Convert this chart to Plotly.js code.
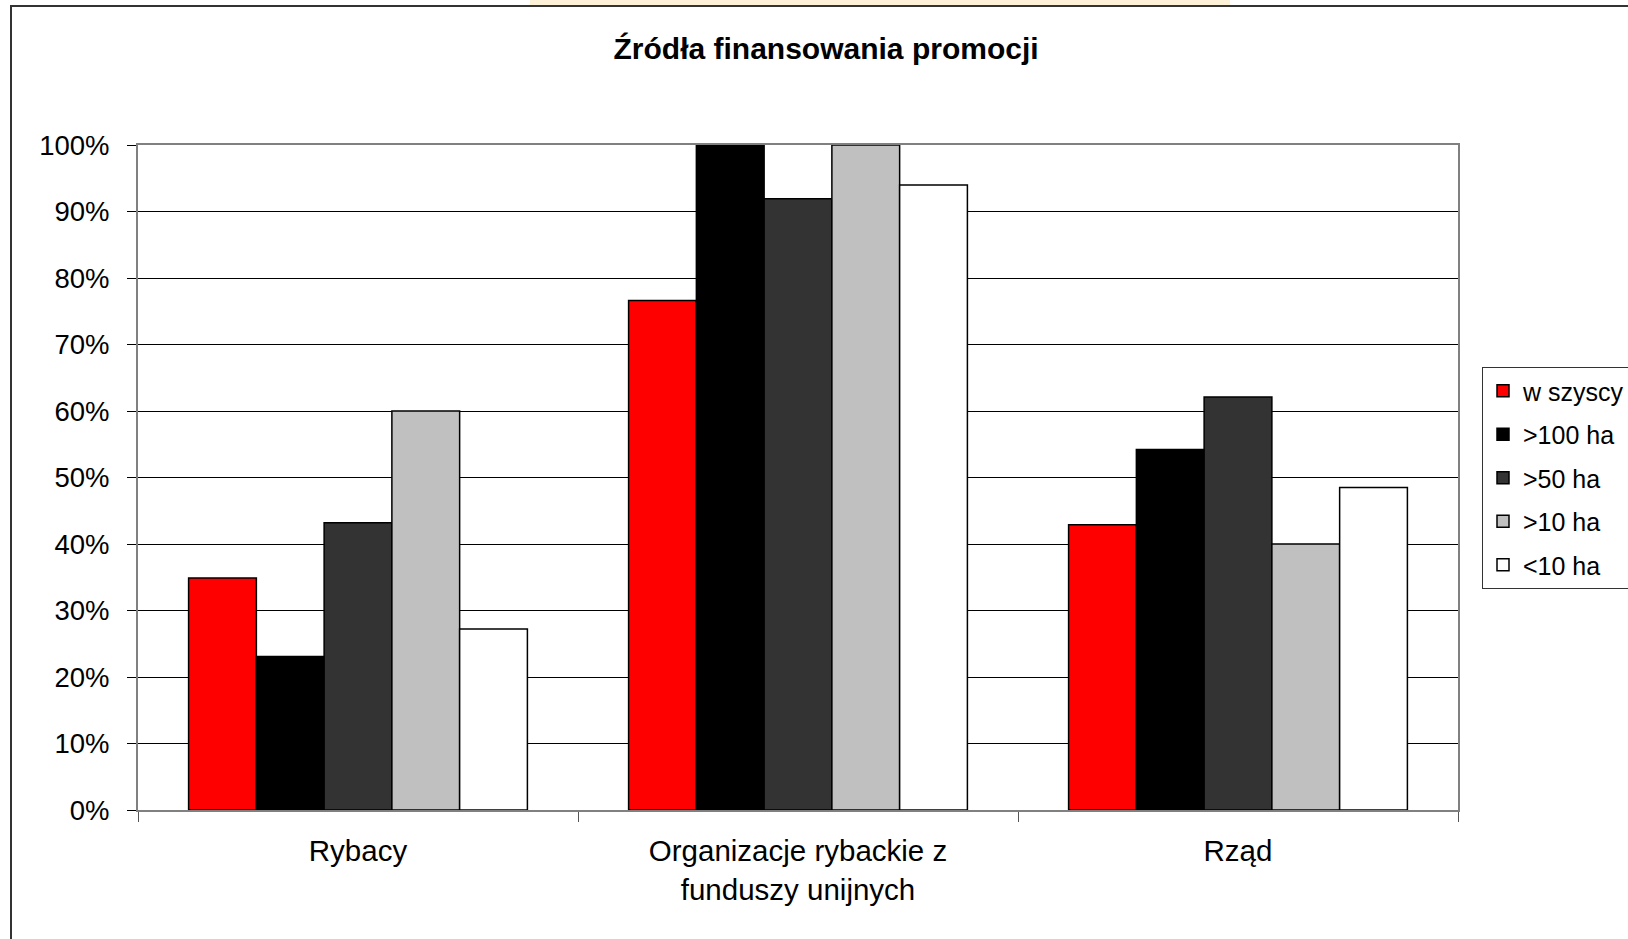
<!DOCTYPE html>
<html>
<head>
<meta charset="utf-8">
<script src="https://cdn.plot.ly/plotly-3.0.1.min.js"></script>
<style>
  html, body { margin: 0; padding: 0; background: #ffffff; }
  #chart { width: 1628px; height: 939px; }
</style>
</head>
<body>
<div id="chart"></div>
<script>
const categories = ["Rybacy", "Organizacje rybackie z<br>funduszy unijnych", "Rząd"];
const seriesNames = ["w szyscy", ">100 ha", ">50 ha", ">10 ha", "<10 ha"];
const wszyscy = [34.9, 76.6, 42.9];
const ha100 = [23.1, 100, 54.2];
const ha50 = [43.2, 91.9, 62.1];
const ha10 = [60, 100, 40];
const haLess10 = [27.2, 94, 48.5];
const seriesValues = [wszyscy, ha100, ha50, ha10, haLess10];
const seriesColors = ["#ff0000", "#000000", "#333333", "#c0c0c0", "#ffffff"];
const yTickVals = [0, 10, 20, 30, 40, 50, 60, 70, 80, 90, 100];
const yTickLabels = ["0%", "10%", "20%", "30%", "40%", "50%", "60%", "70%", "80%", "90%", "100%"];

const FONT = "Liberation Sans, Arial, sans-serif";

const traces = seriesNames.map((name, i) => ({
  type: "bar",
  name: name,
  x: categories,
  y: seriesValues[i],
  legendgroup: "g" + i,
  marker: { color: seriesColors[i], line: { color: "#000000", width: 1.5 } },
  hoverinfo: "skip"
}));

// pixel -> paper helpers (plot area: x 138..1458, y 145..810)
const px = v => (v - 138) / 1320;
const py = v => (810 - v) / 665;

const layout = {
  width: 1628,
  height: 939,
  margin: { l: 138, r: 170, t: 145, b: 129, autoexpand: false },
  paper_bgcolor: "#ffffff",
  plot_bgcolor: "#ffffff",
  font: { family: FONT, color: "#000000" },
  title: {
    text: "<b>Źródła finansowania promocji</b>",
    font: { family: FONT, size: 30, color: "#000000" },
    xref: "container", x: 0.5074, xanchor: "center",
    yref: "container", y: 0.948, yanchor: "middle"
  },
  barmode: "group",
  bargap: 0.23,
  bargroupgap: 0,
  showlegend: true,
  legend: {
    xref: "container", x: 1482 / 1628, xanchor: "left",
    yref: "container", y: 1 - 367 / 939, yanchor: "top",
    bgcolor: "#ffffff",
    bordercolor: "#333333",
    borderwidth: 1,
    font: { family: FONT, size: 25, color: "#000000" },
    traceorder: "grouped",
    tracegroupgap: 8,
    itemclick: false
  },
  xaxis: {
    type: "category",
    showline: true, linecolor: "#808080", linewidth: 2, mirror: true,
    ticks: "outside", tickson: "boundaries", ticklen: 10, tickcolor: "#555555", tickwidth: 1,
    tickfont: { family: FONT, size: 29.5, color: "#000000" },
    ticklabelstandoff: 14,
    showgrid: false, zeroline: false, fixedrange: true
  },
  yaxis: {
    range: [0, 100],
    tickmode: "array",
    tickvals: yTickVals,
    ticktext: yTickLabels,
    showline: true, linecolor: "#808080", linewidth: 2, mirror: true,
    ticks: "outside", ticklen: 9, tickcolor: "#000000", tickwidth: 1,
    tickfont: { family: FONT, size: 27.5, color: "#000000" },
    ticklabelstandoff: 12,
    showgrid: true, gridcolor: "#000000", gridwidth: 1,
    zeroline: false, fixedrange: true
  },
  shapes: [
    {
      type: "rect", xref: "paper", yref: "paper", layer: "below",
      x0: px(530), x1: px(1230), y0: py(6), y1: py(0),
      fillcolor: "#fdf1d8", line: { width: 0 }
    },
    {
      type: "rect", xref: "paper", yref: "paper", layer: "above",
      x0: px(11), x1: px(1660), y0: py(980), y1: py(6),
      fillcolor: "rgba(0,0,0,0)", line: { color: "#333333", width: 2 }
    }
  ]
};

Plotly.newPlot("chart", traces, layout, { displayModeBar: false, staticPlot: true });
</script>
</body>
</html>
